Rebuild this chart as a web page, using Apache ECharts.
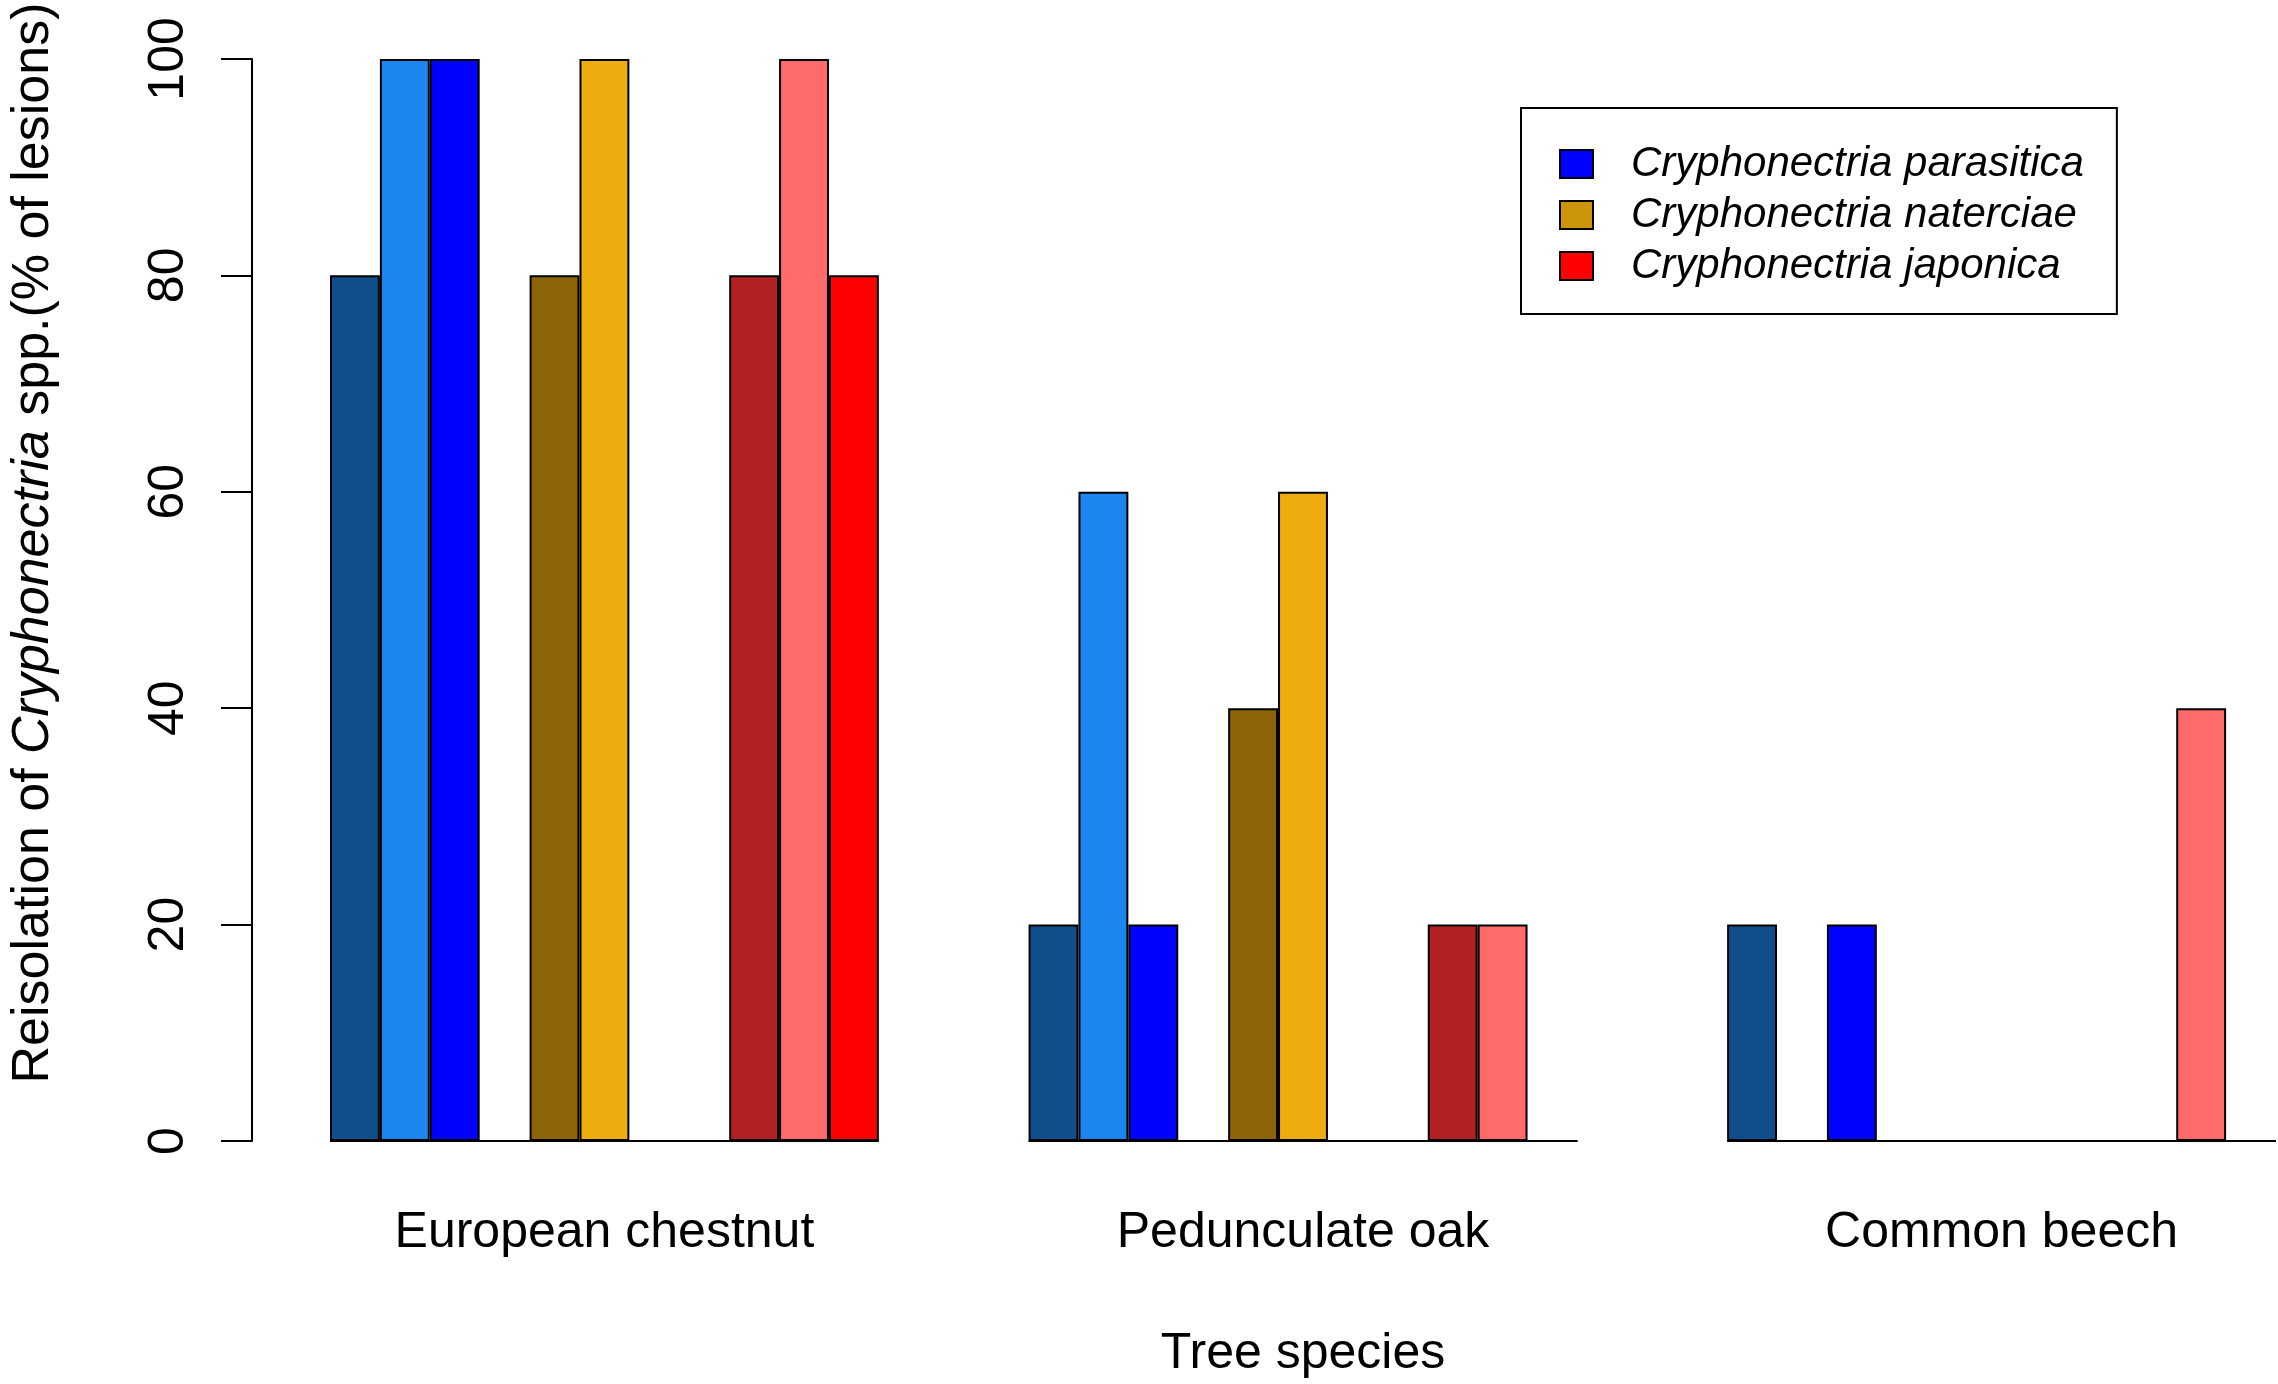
<!DOCTYPE html>
<html>
<head>
<meta charset="utf-8">
<title>Reisolation of Cryphonectria spp.</title>
<script src="https://cdn.jsdelivr.net/npm/echarts@6/dist/echarts.min.js"></script>
<style>
  html, body { margin: 0; padding: 0; background: #fff; }
  #chart { width: 2278px; height: 1384px; }
</style>
</head>
<body>
<div id="chart"></div>
<script>
// data (% of lesions), three shades per fungus
var species = ['European chestnut', 'Pedunculate oak', 'Common beech'];
var fungi = ['Cryphonectria parasitica', 'Cryphonectria naterciae', 'Cryphonectria japonica'];
var parasitica = [[80, 100, 100], [20, 60, 20], [20, 0, 20]];
var naterciae  = [[80, 100, 0],   [40, 60, 0],  [0, 0, 0]];
var japonica   = [[80, 100, 80],  [20, 20, 0],  [0, 40, 0]];
var yTicks = [0, 20, 40, 60, 80, 100];

var legendColors = ['#0000FF', '#CD950C', '#FF0000'];
var shadeColors = [
  ['#104E8B', '#1C86EE', '#0000FF'],
  ['#8B6508', '#EEAD0E', '#CD950C'],
  ['#B22222', '#FF6A6A', '#FF0000']
];

var FONT = '"Liberation Sans", Arial, Helvetica, sans-serif';

// slot layout: 3 bars, gap, 3 bars, gap, 3 bars  -> 11 slots per tree, 3 slots between trees
var perGroup = 11, groupStep = 14;
var nSlots = groupStep * (species.length - 1) + perGroup;
var slots = [];
for (var s = 0; s < nSlots; s++) slots.push('s' + s);
var labelAt = {};
species.forEach(function (name, g) { labelAt[g * groupStep + 5] = name; });

var allFungi = [parasitica, naterciae, japonica];
var series = allFungi.map(function (vals, f) {
  var data = [];
  for (var i = 0; i < nSlots; i++) data.push('-');
  vals.forEach(function (trio, g) {
    trio.forEach(function (v, k) {
      data[g * groupStep + f * 4 + k] = {
        value: v,
        itemStyle: { color: shadeColors[f][k] }
      };
    });
  });
  return {
    name: fungi[f],
    type: 'bar',
    stack: 'all',
    barWidth: '100%',
    data: data,
    itemStyle: { color: legendColors[f], borderColor: '#000', borderWidth: 2 },
    emphasis: { disabled: true }
  };
});

// base line under each tree group (R draws zero bars as a line)
var groupSpans = species.map(function (n, g) {
  return [g * groupStep, g * groupStep + perGroup - 1, 0];
});
series.push({
  type: 'custom',
  data: groupSpans,
  encode: { x: [0, 1], y: 2 },
  z: 5,
  silent: true,
  renderItem: function (params, api) {
    var p0 = api.coord([api.value(0), 0]);
    var p1 = api.coord([api.value(1), 0]);
    var half = api.size([1, 0])[0] / 2;
    return {
      type: 'line',
      shape: { x1: p0[0] - half, y1: p0[1], x2: p1[0] + half, y2: p1[1] },
      style: { stroke: '#000', lineWidth: 2 }
    };
  }
});

var myChart = echarts.init(document.getElementById('chart'));

var option = {
  animation: false,
  backgroundColor: '#fff',
  grid: { left: 320, right: 2, top: 54, bottom: 242 },
  legend: {
    data: fungi,
    orient: 'vertical',
    left: 1521,
    top: 108,
    padding: [35, 33, 27, 38],
    itemGap: 9,
    itemWidth: 33,
    itemHeight: 28,
    icon: 'rect',
    borderColor: '#000',
    borderWidth: 2,
    itemStyle: { borderColor: '#000', borderWidth: 2 },
    textStyle: { fontFamily: FONT, fontStyle: 'italic', fontSize: 42, color: '#000', padding: [0, 0, 0, 33] }
  },
  xAxis: {
    type: 'category',
    data: slots,
    axisLine: { show: false },
    axisTick: { show: false },
    axisLabel: {
      interval: 0,
      margin: 67,
      fontFamily: FONT,
      fontSize: 50,
      color: '#000',
      formatter: function (v, i) { return labelAt[i] || ''; }
    },
    name: 'Tree species',
    nameLocation: 'middle',
    nameGap: 188,
    nameTextStyle: { fontFamily: FONT, fontSize: 50, color: '#000' }
  },
  yAxis: {
    type: 'value',
    min: yTicks[0],
    max: yTicks[yTicks.length - 1],
    interval: 20,
    offset: 78,
    splitLine: { show: false },
    axisLine: { show: true, lineStyle: { color: '#000', width: 2 } },
    axisTick: { show: true, length: 31, lineStyle: { color: '#000', width: 2 } },
    axisLabel: { rotate: 90, margin: 58, fontFamily: FONT, fontSize: 50, color: '#000' },
    name: '{n|Reisolation of }{i|Cryphonectria}{n| spp.(% of lesions)}',
    nameLocation: 'middle',
    nameRotate: 90,
    nameGap: 192,
    nameTextStyle: {
      padding: [0, 0, 0, 114],
      rich: {
        n: { fontFamily: FONT, fontSize: 52, color: '#000' },
        i: { fontFamily: FONT, fontSize: 52, fontStyle: 'italic', color: '#000' }
      }
    }
  },
  series: series
};

myChart.setOption(option);
</script>
</body>
</html>
